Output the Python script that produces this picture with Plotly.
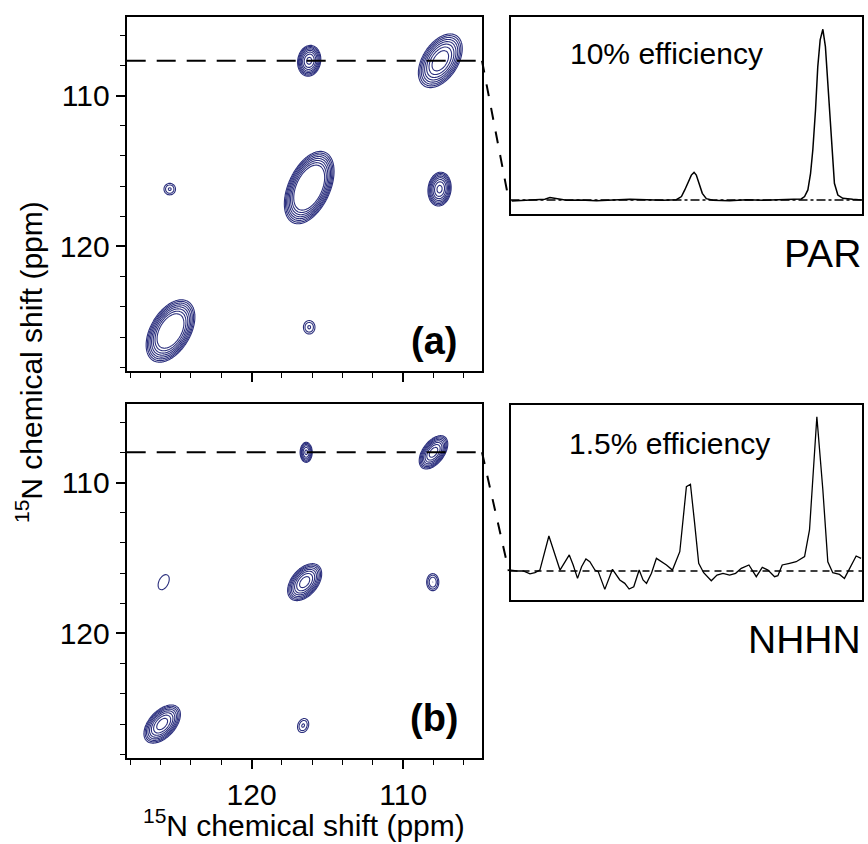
import numpy as np
import plotly.graph_objects as go

# ---------------- data ----------------
# 2D peak list, panel (a) PAR  (x ppm, y ppm, relative amplitude, widths, correlation)
PAR_PEAK_X = [107.55, 116.2, 125.35, 116.2, 107.6, 125.4, 116.2]
PAR_PEAK_Y = [107.7, 116.1, 125.6, 107.7, 116.2, 116.2, 125.35]
PAR_PEAK_AMP = [8.5, 20.0, 14.0, 6.9, 6.9, 1.75, 1.75]
PAR_PEAK_SX = [0.70, 0.67, 0.70, 0.39, 0.39, 0.36, 0.36]
PAR_PEAK_SY = [0.86, 0.98, 0.90, 0.52, 0.57, 0.36, 0.42]
PAR_PEAK_RHO = [0.45, 0.45, 0.45, 0.1, 0.1, 0.0, 0.0]

# 2D peak list, panel (b) NHHN
NHHN_PEAK_X = [116.4, 108.0, 125.8, 116.5, 108.05, 125.9, 116.6]
NHHN_PEAK_Y = [108.0, 108.0, 116.6, 116.6, 116.6, 126.0, 126.1]
NHHN_PEAK_AMP = [4.0, 7.5, 1.25, 7.5, 2.2, 7.5, 1.75]
NHHN_PEAK_SX = [0.24, 0.47, 0.55, 0.56, 0.32, 0.60, 0.35]
NHHN_PEAK_SY = [0.40, 0.55, 0.75, 0.61, 0.45, 0.63, 0.44]
NHHN_PEAK_RHO = [0.0, 0.5, 0.4, 0.45, 0.0, 0.5, 0.2]

# positions of the 1D cross sections
SLICE_POS = {"PAR": 107.7, "NHHN": 108.0}

# 1D slices (intensity in % of largest peak)
PAR_SLICE_PPM = [128.16, 127.39, 126.5, 125.95, 125.61, 125.17, 124.5, 123.61, 122.5, 121.4,
                 120.28, 119.17, 118.06, 117.18, 116.84, 116.62, 116.40, 116.18, 116.0, 115.85,
                 115.67, 115.45, 115.18, 114.74, 113.63, 112.51, 111.4, 110.3, 109.5, 108.85,
                 108.63, 108.41, 108.23, 108.08, 107.90, 107.75, 107.59, 107.41, 107.24, 107.08,
                 106.92, 106.79, 106.64, 106.41, 106.08, 105.42, 104.8]
PAR_SLICE_INT = [-0.6, -0.4, 0, 0.4, 1.4, 0.6, -0.2, 0, -0.4, 0,
                 0.4, 0.2, -0.2, 0.2, 2.0, 5.9, 10.7, 14.6, 16.2, 14.6,
                 9.8, 3.9, 0.8, -0.2, -0.4, 0.2, -0.2, 0, 0.2, 0.6,
                 2.0, 5.9, 15.6, 29.3, 52.7, 78, 93.8, 100, 89.8, 68.4,
                 43, 23.4, 9.8, 2.9, 1.0, 0.4, 0]

NHHN_SLICE_PPM = [128.21, 127.83, 127.39, 126.94, 126.61, 126.28, 125.68, 125.28, 124.94, 124.32,
                  124.06, 123.77, 123.50, 123.21, 122.95, 122.61, 122.39, 121.95, 121.44, 120.95,
                  120.62, 120.33, 120.02, 119.66, 119.40, 119.17, 118.84, 118.51, 118.17, 117.84,
                  117.44, 116.95, 116.51, 116.24, 115.96, 115.69, 115.36, 114.85, 114.47, 114.07,
                  113.63, 113.23, 112.85, 112.34, 111.85, 111.45, 111.07, 110.63, 110.41, 110.12,
                  109.63, 109.19, 108.63, 108.30, 107.81, 107.41, 107.08, 106.75, 106.30, 105.97,
                  105.19, 104.86]
NHHN_SLICE_INT = [0.6, 0, 0, -1.9, -1.1, 0.6, 22.7, 11.4, 0.6, 10.4,
                  3.9, -4.8, 2.8, 7.8, 6.0, 0.6, -0.4, -11.9, 1.1, -5.8,
                  -8.0, -11.7, -10.2, 0.6, -5.8, -8.0, -1.5, 8.2, 6.0, 3.9,
                  0.6, 12.5, 54.6, 56.2, 30.9, 5.0, -1.1, -6.3, -2.6, -1.5,
                  -2.6, -1.5, 1.7, 3.9, -3.7, 2.4, 0.6, -3.7, -3.0, 3.9,
                  5.0, 6.0, 9.3, 26.6, 100, 52.5, 6.0, -1.1, -2.2, -4.8,
                  9.7, 8.2]

MAJOR_TICKS = [110, 120]
X_TITLE = "<sup>15</sup>N chemical shift (ppm)"
Y_TITLE = "<sup>15</sup>N chemical shift (ppm)"
PANEL_LABELS = ["(a)", "(b)"]
SLICE_TEXT = ["10% efficiency", "1.5% efficiency"]
SLICE_NAMES = ["PAR", "NHHN"]

# ---------------- styling / geometry ----------------
W, H = 868, 844
FONT = "Liberation Sans, Arial, Helvetica, sans-serif"
NAVY = "#2c307e"
PPM_RANGE = [128.24, 104.8]
Y2D_RANGE = [128.25, 104.8]
X2D_DOM = [126.7 / W, 482.0 / W]
XS_DOM = [510.5 / W, 862.0 / W]
YA_DOM = [1 - 371 / H, 1 - 17 / H]
YB_DOM = [1 - 758 / H, 1 - 404 / H]
YSA_DOM = [1 - 214 / H, 1 - 17 / H]
YSB_DOM = [1 - 600 / H, 1 - 405 / H]
YSA_RANGE = [-8.2, 107.2]
YSB_RANGE = [-18.8, 107.6]

# contour levels (geometric, via log10 of the spectrum)
LEVEL_FACTOR = 1.3
N_LEVELS = 8

grid = np.arange(104.6, 128.45, 0.05)
GX, GY = np.meshgrid(grid, grid)


def spectrum(xs, ys, amps, sxs, sys_, rhos):
    z = np.zeros_like(GX)
    for x0, y0, a, sx, sy, r in zip(xs, ys, amps, sxs, sys_, rhos):
        dx = (GX - x0) / sx
        dy = (GY - y0) / sy
        q = (dx * dx - 2 * r * dx * dy + dy * dy) / (1 - r * r)
        z += a * np.exp(-0.5 * q)
    return np.round(np.log10(np.maximum(z, 0.5)), 3)


zA = spectrum(PAR_PEAK_X, PAR_PEAK_Y, PAR_PEAK_AMP, PAR_PEAK_SX, PAR_PEAK_SY, PAR_PEAK_RHO)
zB = spectrum(NHHN_PEAK_X, NHHN_PEAK_Y, NHHN_PEAK_AMP, NHHN_PEAK_SX, NHHN_PEAK_SY, NHHN_PEAK_RHO)

step = np.log10(LEVEL_FACTOR)
contour_style = dict(
    autocontour=False,
    contours=dict(start=0.0, end=step * (N_LEVELS - 1) + 1e-4, size=step,
                  coloring="lines", showlabels=False),
    colorscale=[[0, NAVY], [1, NAVY]],
    showscale=False,
    line=dict(width=1.1),
    hoverinfo="skip",
)

fig = go.Figure()
fig.add_trace(go.Contour(x=grid, y=grid, z=zA, xaxis="x", yaxis="y", **contour_style))
fig.add_trace(go.Contour(x=grid, y=grid, z=zB, xaxis="x2", yaxis="y2", **contour_style))
fig.add_trace(go.Scatter(x=PAR_SLICE_PPM, y=PAR_SLICE_INT, xaxis="x3", yaxis="y3",
                         mode="lines", line=dict(color="black", width=1.5), hoverinfo="skip"))
fig.add_trace(go.Scatter(x=NHHN_SLICE_PPM, y=NHHN_SLICE_INT, xaxis="x4", yaxis="y4",
                         mode="lines", line=dict(color="black", width=1.3), hoverinfo="skip"))

frame = dict(showline=True, mirror=True, linewidth=2, linecolor="black",
             showgrid=False, zeroline=False)
tickfont = dict(family=FONT, size=30, color="black")


def ax2d(domain, rng, anchor, labels):
    return dict(domain=domain, range=rng, anchor=anchor, autorange=False,
                ticks="outside", ticklen=9, tickwidth=1.6, tickcolor="black",
                tickmode="array", tickvals=MAJOR_TICKS, showticklabels=labels,
                tickfont=tickfont,
                minor=dict(ticks="outside", ticklen=5, tickwidth=1.4, tickcolor="black",
                           dtick=2, tick0=0),
                **frame)


def axslice(domain, rng, anchor):
    return dict(domain=domain, range=rng, anchor=anchor, autorange=False,
                ticks="", showticklabels=False, **frame)


fig.update_layout(
    width=W, height=H, autosize=False,
    margin=dict(l=0, r=0, t=0, b=0),
    paper_bgcolor="white", plot_bgcolor="white",
    showlegend=False,
    font=dict(family=FONT, color="black"),
    xaxis=ax2d(X2D_DOM, PPM_RANGE, "y", False),
    yaxis=ax2d(YA_DOM, Y2D_RANGE, "x", True),
    xaxis2=ax2d(X2D_DOM, PPM_RANGE, "y2", True),
    yaxis2=ax2d(YB_DOM, Y2D_RANGE, "x2", True),
    xaxis3=axslice(XS_DOM, PPM_RANGE, "y3"),
    yaxis3=axslice(YSA_DOM, YSA_RANGE, "x3"),
    xaxis4=axslice(XS_DOM, PPM_RANGE, "y4"),
    yaxis4=axslice(YSB_DOM, YSB_RANGE, "x4"),
)


def paper_y(val, dom, rng):
    f = (val - rng[0]) / (rng[1] - rng[0])
    return dom[0] + f * (dom[1] - dom[0])


shapes = []
panels = [("x", "y", "x3", "y3", YA_DOM, YSA_DOM, YSA_RANGE, SLICE_POS["PAR"], "dashdot"),
          ("x2", "y2", "x4", "y4", YB_DOM, YSB_DOM, YSB_RANGE, SLICE_POS["NHHN"], "7px,5px")]
for xa, ya, xs, ys, ydom, ysdom, ysrng, pos, bdash in panels:
    # horizontal cross-section line in the 2D spectrum
    shapes.append(dict(type="line", xref=f"{xa} domain", yref=ya, x0=0, x1=1.003, y0=pos, y1=pos,
                       line=dict(color="black", width=2, dash="19px,11px"), layer="above"))
    # connector to the slice baseline
    shapes.append(dict(type="line", xref="paper", yref="paper",
                       x0=X2D_DOM[1], y0=paper_y(pos, ydom, Y2D_RANGE),
                       x1=XS_DOM[0] - 0.002, y1=paper_y(0, ysdom, ysrng),
                       line=dict(color="black", width=2, dash="12px,12px")))
    # baseline reference of the slice
    shapes.append(dict(type="line", xref=f"{xs} domain", yref=ys, x0=0, x1=1, y0=0, y1=0,
                       line=dict(color="black", width=1.3, dash=bdash), layer="below"))

annotations = [
    dict(text=Y_TITLE, textangle=-90, xref="paper", yref="paper", x=29 / W, y=1 - 362 / H,
         xanchor="center", yanchor="middle", showarrow=False, font=dict(size=30)),
    dict(text=X_TITLE, xref="paper", yref="paper", x=(X2D_DOM[0] + X2D_DOM[1]) / 2, y=1 - 823 / H,
         xanchor="center", yanchor="middle", showarrow=False, font=dict(size=30)),
    dict(text="<b>" + PANEL_LABELS[0] + "</b>", xref="x domain", yref="y domain", x=0.935, y=0.085,
         xanchor="right", yanchor="middle", showarrow=False, font=dict(size=38)),
    dict(text="<b>" + PANEL_LABELS[1] + "</b>", xref="x2 domain", yref="y2 domain", x=0.94, y=0.113,
         xanchor="right", yanchor="middle", showarrow=False, font=dict(size=38)),
    dict(text=SLICE_TEXT[0], xref="x3 domain", yref="y3 domain", x=0.445, y=0.817,
         xanchor="center", yanchor="middle", showarrow=False, font=dict(size=30)),
    dict(text=SLICE_TEXT[1], xref="x4 domain", yref="y4 domain", x=0.451, y=0.805,
         xanchor="center", yanchor="middle", showarrow=False, font=dict(size=30)),
    dict(text=SLICE_NAMES[0], xref="paper", yref="paper", x=863 / W, y=1 - 253 / H,
         xanchor="right", yanchor="middle", showarrow=False, font=dict(size=39)),
    dict(text=SLICE_NAMES[1], xref="paper", yref="paper", x=863 / W, y=1 - 639 / H,
         xanchor="right", yanchor="middle", showarrow=False, font=dict(size=39)),
]
fig.update_layout(shapes=shapes, annotations=annotations)

fig.write_html("out.html")
